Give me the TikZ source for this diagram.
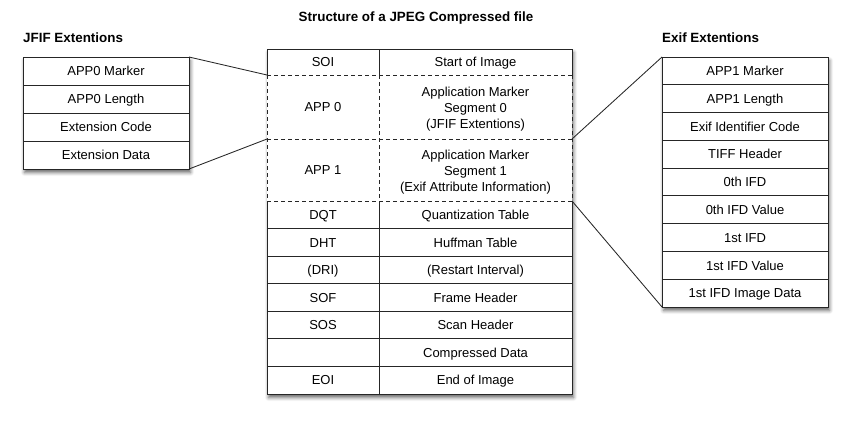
\documentclass[tikz,border=0pt]{standalone}
\usepackage{fontspec}
\setmainfont{Liberation Sans}
\usetikzlibrary{shadows.blur}
\pgfdeclarelayer{background}
\pgfsetlayers{background,main}
\tikzset{
  tl/.style={line width=0.95pt, draw=black!85},
  conn/.style={line width=0.85pt, draw=black!85},
  dsh/.style={tl, dash pattern=on 4pt off 3pt},
  base/.style={rectangle, inner sep=0pt, outer sep=0pt, align=center,
    font=\fontsize{13}{16}\selectfont, text=black},
  cell/.style={base, anchor=north west, text height=9.4pt, text depth=0pt},
  mcell/.style={base, anchor=north west},
  bcell/.style={cell, draw=black!85, line width=0.95pt},
  head/.style={inner sep=0pt, font=\fontsize{13.4}{16}\selectfont\bfseries, text=black},
  shd/.style={fill=white, blur shadow={shadow xshift=1.5pt, shadow yshift=-3.5pt,
    shadow blur radius=3.5pt, shadow opacity=60}},
  wl/.style={minimum width=112pt},
  wr/.style={minimum width=193pt},
  rowh/.style={minimum height=27.57pt},
  side/.style={bcell, minimum width=166pt},
}
\begin{document}
\begin{tikzpicture}[x=1pt,y=-1pt]
\useasboundingbox (0,0) rectangle (850,421);

% titles
\node[head] (title) at (416,18) {Structure of a JPEG Compressed file};
\node[head, anchor=west] (jt) at (23,38) {JFIF Extentions};
\node[head, anchor=west] (et) at (662,38) {Exif Extentions};

% central table cells
\node[cell, wl, minimum height=26pt] (soi-l) at (267,49) {SOI};
\node[cell, wr, minimum height=26pt] (soi-r) at (379,49) {Start of Image};
\node[cell, wl, minimum height=64pt] (app0-l) at (267,75) {APP 0};
\node[mcell, wr, minimum height=64pt] (app0-r) at (379,75) {};
\node[base] (app0-t) at ([yshift=-2pt]app0-r.center) {Application Marker\\Segment 0\\(JFIF Extentions)};
\node[cell, wl, minimum height=62pt] (app1-l) at (267,139) {APP 1};
\node[mcell, wr, minimum height=62pt] (app1-r) at (379,139) {};
\node[base] (app1-t) at ([yshift=-2pt]app1-r.center) {Application Marker\\Segment 1\\(Exif Attribute Information)};
\node[cell, wl, rowh] (dqt-l) at (267,201) {DQT};
\node[cell, wr, rowh] (dqt-r) at (379,201) {Quantization Table};
\node[cell, wl, rowh] (dht-l) at (267,228.57) {DHT};
\node[cell, wr, rowh] (dht-r) at (379,228.57) {Huffman Table};
\node[cell, wl, rowh] (dri-l) at (267,256.14) {(DRI)};
\node[cell, wr, rowh] (dri-r) at (379,256.14) {(Restart Interval)};
\node[cell, wl, rowh] (sof-l) at (267,283.71) {SOF};
\node[cell, wr, rowh] (sof-r) at (379,283.71) {Frame Header};
\node[cell, wl, rowh] (sos-l) at (267,311.29) {SOS};
\node[cell, wr, rowh] (sos-r) at (379,311.29) {Scan Header};
\node[cell, wl, rowh] (cd-l) at (267,338.86) {};
\node[cell, wr, rowh] (cd-r) at (379,338.86) {Compressed Data};
\node[cell, wl, rowh] (eoi-l) at (267,366.43) {EOI};
\node[cell, wr, rowh] (eoi-r) at (379,366.43) {End of Image};

% central table lines
\draw[tl] (soi-l.south west) -- (soi-l.north west) -- (soi-r.north east) -- (soi-r.south east);
\draw[tl] (soi-l.north east) -- (soi-l.south east);
\draw[dsh] (app0-l.north west) -- (app0-r.north east);
\draw[dsh] (app0-l.south west) -- (app0-r.south east);
\draw[dsh] (app1-l.south west) -- (app1-r.south east);
\draw[dsh] (app0-l.north west) -- (app1-l.south west);
\draw[dsh] (app0-r.north east) -- (app1-r.south east);
\draw[dsh] (app0-l.north east) -- (app1-l.south east);
\draw[tl] (dqt-l.north west) -- (eoi-l.south west) -- (eoi-r.south east) -- (dqt-r.north east);
\draw[tl] (dqt-l.north east) -- (eoi-l.south east);
\foreach \r in {dqt,dht,dri,sof,sos,cd}
  \draw[tl] (\r-l.south west) -- (\r-r.south east);

% left table
\node[side, minimum height=28pt] (j1) at (23,57) {APP0 Marker};
\node[side, minimum height=28pt] (j2) at (23,85) {APP0 Length};
\node[side, minimum height=28pt] (j3) at (23,113) {Extension Code};
\node[side, minimum height=28pt] (j4) at (23,141) {Extension Data};

% right table
\node[side, minimum height=27.78pt] (e1) at (662,57) {APP1 Marker};
\node[side, minimum height=27.78pt] (e2) at (662,84.78) {APP1 Length};
\node[side, minimum height=27.78pt] (e3) at (662,112.56) {Exif Identifier Code};
\node[side, minimum height=27.78pt] (e4) at (662,140.33) {TIFF Header};
\node[side, minimum height=27.78pt] (e5) at (662,168.11) {0th IFD};
\node[side, minimum height=27.78pt] (e6) at (662,195.89) {0th IFD Value};
\node[side, minimum height=27.78pt] (e7) at (662,223.67) {1st IFD};
\node[side, minimum height=27.78pt] (e8) at (662,251.44) {1st IFD Value};
\node[side, minimum height=27.78pt] (e9) at (662,279.22) {1st IFD Image Data};

% connectors
\draw[conn] (j1.north east) -- (app0-l.north west);
\draw[conn] (j4.south east) -- (app1-l.north west);
\draw[conn] (e1.north west) -- (app1-r.north east);
\draw[conn] (e9.south west) -- (app1-r.south east);

% shadows
\begin{pgfonlayer}{background}
  \path[shd] (soi-l.north west) rectangle (eoi-r.south east);
  \path[shd] (j1.north west) rectangle (j4.south east);
  \path[shd] (e1.north west) rectangle (e9.south east);
\end{pgfonlayer}
\end{tikzpicture}
\end{document}
